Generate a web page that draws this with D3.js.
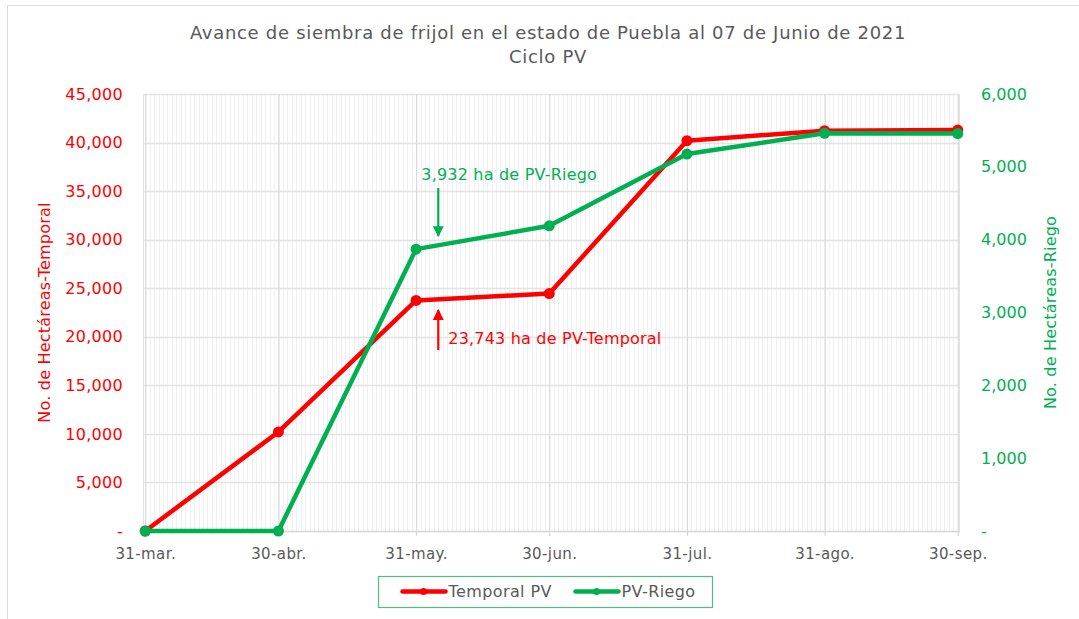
<!DOCTYPE html>
<html>
<head>
<meta charset="utf-8">
<script src="https://cdn.jsdelivr.net/npm/d3@7"></script>
<style>
  body { margin: 0; background: #fff; }
  text { font-family: "DejaVu Sans", sans-serif; }
</style>
</head>
<body>
<div class="chart"></div>
<script>
// Data
//= ================================
var fechas = ["2021-03-31", "2021-04-30", "2021-05-31", "2021-06-30", "2021-07-31", "2021-08-31", "2021-09-30"];
var etiquetasX = ["31-mar.", "30-abr.", "31-may.", "30-jun.", "31-jul.", "31-ago.", "30-sep."];
var temporal = [0, 10200, 23743, 24450, 40190, 41220, 41290];
var riego = [0, 0, 3870, 4190, 5176, 5460, 5457];
var ticksIzq = [0, 5000, 10000, 15000, 20000, 25000, 30000, 35000, 40000, 45000];
var ticksDer = [0, 1000, 2000, 3000, 4000, 5000, 6000];
var nombresSeries = ["Temporal PV", "PV-Riego"];

var rojo = "#FF0000";
var verde = "#00B050";
var gris = "#595959";

// Step 0: Set up our chart
var svgWidth = 1079;
var svgHeight = 619;
var margin = { top: 94, right: 119, bottom: 88, left: 143 };
var width = svgWidth - margin.left - margin.right;
var height = svgHeight - margin.top - margin.bottom;

var parseFecha = d3.timeParse("%Y-%m-%d");
var dias = fechas.map(parseFecha);

var root = d3
  .select(".chart")
  .append("svg")
  .attr("width", svgWidth)
  .attr("height", svgHeight);

// outer border of the chart area
root
  .append("rect")
  .attr("x", 7.5)
  .attr("y", 5.5)
  .attr("width", 1200)
  .attr("height", 800)
  .attr("fill", "none")
  .attr("stroke", "#d9d9d9");

var chart = root
  .append("g")
  .attr("transform", "translate(" + margin.left + "," + margin.top + ")");

// Scales: half a day padding each side (Excel date axis)
var xStart = d3.timeHour.offset(dias[0], -12);
var xEnd = d3.timeHour.offset(dias[dias.length - 1], 12);
var xTimeScale = d3.scaleTime().domain([xStart, xEnd]).range([0, width]);
var yLeft = d3.scaleLinear().domain([0, 45000]).range([height, 0]);
var yRight = d3.scaleLinear().domain([0, 6000]).range([height, 0]);

// minor daily gridlines
var diasMenores = d3.timeDay.range(dias[0], d3.timeDay.offset(dias[dias.length - 1], 1));
chart
  .append("g")
  .selectAll("line")
  .data(diasMenores)
  .enter()
  .append("line")
  .attr("x1", function(d) { return Math.round(xTimeScale(d)) + 0.5; })
  .attr("x2", function(d) { return Math.round(xTimeScale(d)) + 0.5; })
  .attr("y1", 0)
  .attr("y2", height)
  .attr("stroke", "#f0f0f0")
  .attr("stroke-width", 1);

// horizontal gridlines
chart
  .append("g")
  .selectAll("line")
  .data(ticksIzq)
  .enter()
  .append("line")
  .attr("x1", 0)
  .attr("x2", width)
  .attr("y1", function(d) { return Math.round(yLeft(d)) + 0.5; })
  .attr("y2", function(d) { return Math.round(yLeft(d)) + 0.5; })
  .attr("stroke", "#e3e3e3")
  .attr("stroke-width", 1.5);

// plot border (left/right edges)
chart
  .append("line")
  .attr("x1", 0.5).attr("x2", 0.5)
  .attr("y1", 0).attr("y2", height)
  .attr("stroke", "#e3e3e3");
chart
  .append("line")
  .attr("x1", width - 0.5).attr("x2", width - 0.5)
  .attr("y1", 0).attr("y2", height)
  .attr("stroke", "#e3e3e3");

// bottom axis with major gridlines at the month ends
var bottomAxis = d3
  .axisBottom(xTimeScale)
  .tickValues(dias)
  .tickSize(-height - 5)
  .tickFormat(function(d, i) { return etiquetasX[i]; });

var xAxisG = chart
  .append("g")
  .attr("class", "x-axis")
  .attr("transform", "translate(0," + (height + 5) + ")")
  .call(bottomAxis);
xAxisG.select(".domain").remove();
xAxisG.selectAll(".tick line").attr("stroke", "#d9d9d9").attr("stroke-width", 1.2);
xAxisG
  .selectAll(".tick text")
  .attr("y", 12)
  .attr("fill", gris)
  .style("font-size", "15px")
  .style("letter-spacing", "0.4px");

chart
  .append("line")
  .attr("x1", 0).attr("x2", width)
  .attr("y1", height + 0.5).attr("y2", height + 0.5)
  .attr("stroke", "#d9d9d9")
  .attr("stroke-width", 1.5);

// left axis
var leftAxis = d3
  .axisLeft(yLeft)
  .tickValues(ticksIzq)
  .tickSize(0)
  .tickPadding(20)
  .tickFormat(function(d) { return d === 0 ? "-  " : d3.format(",")(d); });
var yAxisL = chart.append("g").call(leftAxis);
yAxisL.select(".domain").remove();
yAxisL.selectAll("text").attr("fill", rojo).style("font-size", "16px").style("letter-spacing", "0.3px");

// right axis
var rightAxis = d3
  .axisRight(yRight)
  .tickValues(ticksDer)
  .tickSize(0)
  .tickPadding(21)
  .tickFormat(function(d) { return d === 0 ? "-" : d3.format(",")(d); });
var yAxisR = chart
  .append("g")
  .attr("transform", "translate(" + width + ",0)")
  .call(rightAxis);
yAxisR.select(".domain").remove();
yAxisR.selectAll("text").attr("fill", verde).style("font-size", "16px");

// axis titles
chart
  .append("text")
  .attr("transform", "translate(" + (44 - margin.left) + "," + (height / 2) + ") rotate(-90)")
  .attr("text-anchor", "middle")
  .attr("dy", "0.35em")
  .attr("fill", rojo)
  .style("font-size", "16px")
  .style("letter-spacing", "0.2px")
  .text("No. de Hectáreas-Temporal");

chart
  .append("text")
  .attr("transform", "translate(" + (width + 90) + "," + (height / 2) + ") rotate(-90)")
  .attr("text-anchor", "middle")
  .attr("dy", "0.35em")
  .attr("fill", verde)
  .style("font-size", "16px")
  .style("letter-spacing", "0.2px")
  .text("No. de Hectáreas-Riego");

// lines
function dibujarSerie(valores, escala, color) {
  var puntos = valores.map(function(v, i) { return { fecha: dias[i], valor: v }; });
  var linea = d3
    .line()
    .x(function(d) { return xTimeScale(d.fecha); })
    .y(function(d) { return escala(d.valor); });
  chart
    .append("path")
    .datum(puntos)
    .attr("d", linea)
    .attr("fill", "none")
    .attr("stroke", color)
    .attr("stroke-width", 4.5)
    .attr("stroke-linejoin", "round");
  chart
    .append("g")
    .selectAll("circle")
    .data(puntos)
    .enter()
    .append("circle")
    .attr("cx", function(d) { return xTimeScale(d.fecha); })
    .attr("cy", function(d) { return escala(d.valor); })
    .attr("r", 5.5)
    .attr("fill", color);
}
dibujarSerie(temporal, yLeft, rojo);
dibujarSerie(riego, yRight, verde);

// annotations
var fechaNota = parseFecha("2021-06-05");
var xNota = xTimeScale(fechaNota);

root
  .append("defs")
  .selectAll("marker")
  .data([["flechaVerde", verde], ["flechaRoja", rojo]])
  .enter()
  .append("marker")
  .attr("id", function(d) { return d[0]; })
  .attr("viewBox", "0 0 10 10")
  .attr("refX", 9)
  .attr("refY", 5)
  .attr("markerWidth", 5)
  .attr("markerHeight", 5)
  .attr("markerUnits", "strokeWidth")
  .attr("orient", "auto")
  .append("path")
  .attr("d", "M0,0 L10,5 L0,10 z")
  .attr("fill", function(d) { return d[1]; });

chart
  .append("line")
  .attr("x1", xNota).attr("x2", xNota)
  .attr("y1", yRight(4709)).attr("y2", yRight(4050))
  .attr("stroke", verde)
  .attr("stroke-width", 2.2)
  .attr("marker-end", "url(#flechaVerde)");
chart
  .append("text")
  .attr("x", xNota - 17)
  .attr("y", yRight(4902))
  .attr("dy", "0.35em")
  .attr("fill", verde)
  .style("font-size", "16px")
  .style("letter-spacing", "0.2px")
  .text("3,932 ha de PV-Riego");

chart
  .append("line")
  .attr("x1", xNota).attr("x2", xNota)
  .attr("y1", yLeft(18638)).attr("y2", yLeft(22757))
  .attr("stroke", rojo)
  .attr("stroke-width", 2.2)
  .attr("marker-end", "url(#flechaRoja)");
chart
  .append("text")
  .attr("x", xNota + 10)
  .attr("y", yLeft(19874))
  .attr("dy", "0.35em")
  .attr("fill", rojo)
  .style("font-size", "16px")
  .style("letter-spacing", "0.2px")
  .text("23,743 ha de PV-Temporal");

// title
root
  .append("text")
  .attr("x", 548)
  .attr("y", 33)
  .attr("text-anchor", "middle")
  .attr("dy", "0.35em")
  .attr("fill", gris)
  .style("font-size", "18px")
  .style("letter-spacing", "0.7px")
  .text("Avance de siembra de frijol en el estado de Puebla al 07 de Junio de 2021");
root
  .append("text")
  .attr("x", 548)
  .attr("y", 57)
  .attr("text-anchor", "middle")
  .attr("dy", "0.35em")
  .attr("fill", gris)
  .style("font-size", "18px")
  .style("letter-spacing", "0.7px")
  .text("Ciclo PV");

// legend
var legend = root.append("g").attr("transform", "translate(378.5,576.5)");
legend
  .append("rect")
  .attr("width", 334)
  .attr("height", 31)
  .attr("fill", "#fff")
  .attr("stroke", "#4cc07e")
  .attr("stroke-width", 1.2);

var legendItems = legend
  .selectAll(".item")
  .data(nombresSeries)
  .enter()
  .append("g")
  .attr("transform", function(d, i) { return "translate(" + (i === 0 ? 24 : 197) + ",15)"; });
legendItems
  .append("line")
  .attr("x1", 0).attr("x2", 43)
  .attr("stroke", function(d, i) { return i === 0 ? rojo : verde; })
  .attr("stroke-width", 4.5)
  .attr("stroke-linecap", "round");
legendItems
  .append("circle")
  .attr("cx", 21)
  .attr("r", 3.5)
  .attr("fill", function(d, i) { return i === 0 ? rojo : verde; });
legendItems
  .append("text")
  .attr("x", 46)
  .attr("dy", "0.35em")
  .attr("fill", gris)
  .style("font-size", "16px")
  .style("letter-spacing", "0.4px")
  .text(function(d) { return d; });
</script>
</body>
</html>
